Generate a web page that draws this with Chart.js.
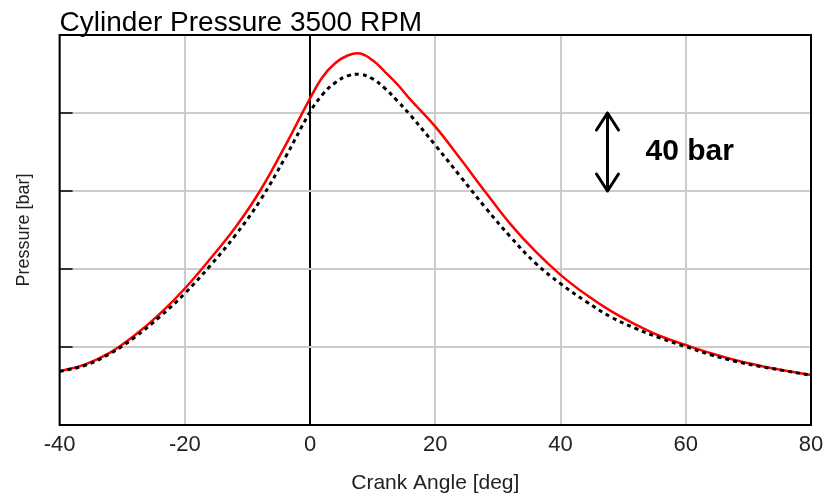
<!DOCTYPE html>
<html>
<head>
<meta charset="utf-8">
<script src="https://cdn.jsdelivr.net/npm/chart.js@4/dist/chart.umd.min.js"></script>
<style>
  html, body { margin: 0; padding: 0; background: #fff; }
  #wrap { width: 823px; height: 494px; }
</style>
</head>
<body>
<div id="wrap"><canvas id="pressureChart"></canvas></div>
<script>
// crank angle [deg]
var crankAngle = [-40, -36, -32, -28, -24, -20, -16, -12, -8, -4, 0, 2, 4, 6, 8, 10, 12, 14, 16,
  20, 24, 28, 32, 36, 40, 44, 48, 52, 56, 60, 64, 68, 72, 76, 80];
// red solid curve
var pressureRed = [27.5, 31, 37, 46, 57, 70, 85, 101, 120, 143, 167.5, 178.5, 185.5, 189.5, 190.5, 187, 181, 174.5, 167,
  153, 136.5, 119.5, 103, 89, 77, 67, 58.5, 51.5, 45.5, 41, 36.8, 33.2, 30.3, 27.8, 25.6];
// black dotted curve
var pressureBlack = [27.5, 30.5, 36.5, 45, 55.5, 67.5, 81.5, 97, 115, 137, 160.5, 169.5, 175.5, 179, 179.8, 177.5, 172.5, 166, 159,
  143.5, 127.5, 111.5, 96.5, 83, 72.5, 63.5, 55.5, 49.5, 44.5, 40.2, 36, 32.6, 30, 27.7, 25.5];
var xTicks = [-40, -20, 0, 20, 40, 60, 80];
var yTicks = [0, 40, 80, 120, 160, 200];
// scale marker: 40 bar
var markerAngle = 47.5;
var markerFrom = 120;
var markerTo = 160;
var markerText = '40 bar';
var chartTitle = 'Cylinder Pressure 3500 RPM';

function toPoints(xs, ys) {
  return xs.map(function(x, i) { return {x: x, y: ys[i]}; });
}

// frame, inner y ticks, title and the 40 bar arrow
var extras = {
  id: 'extras',
  afterDatasetsDraw: function(chart) {
    var ctx = chart.ctx, a = chart.chartArea;
    var xs = chart.scales.x, ys = chart.scales.y;
    ctx.save();
    ctx.strokeStyle = '#000';
    ctx.lineWidth = 2;
    ctx.strokeRect(a.left, a.top, a.right - a.left, a.bottom - a.top);

    ctx.lineWidth = 1.5;
    yTicks.forEach(function(v) {
      var py = ys.getPixelForValue(v);
      ctx.beginPath();
      ctx.moveTo(a.left, py);
      ctx.lineTo(a.left + 13, py);
      ctx.stroke();
    });

    ctx.fillStyle = '#000';
    ctx.font = '28px "Liberation Sans", Arial, sans-serif';
    ctx.textAlign = 'left';
    ctx.textBaseline = 'alphabetic';
    ctx.fillText(chartTitle, a.left, a.top - 4);

    // double arrow
    var ax = xs.getPixelForValue(markerAngle);
    var y1 = ys.getPixelForValue(markerTo);
    var y2 = ys.getPixelForValue(markerFrom);
    ctx.lineWidth = 3;
    ctx.lineCap = 'round';
    ctx.lineJoin = 'round';
    ctx.beginPath();
    ctx.moveTo(ax, y1); ctx.lineTo(ax, y2);
    ctx.moveTo(ax - 11, y1 + 17); ctx.lineTo(ax, y1); ctx.lineTo(ax + 11, y1 + 17);
    ctx.moveTo(ax - 11, y2 - 17); ctx.lineTo(ax, y2); ctx.lineTo(ax + 11, y2 - 17);
    ctx.stroke();

    ctx.font = 'bold 30px "Liberation Sans", Arial, sans-serif';
    ctx.textBaseline = 'middle';
    ctx.fillText(markerText, ax + 38, (y1 + y2) / 2);
    ctx.restore();
  }
};

var ctx = document.getElementById('pressureChart').getContext('2d');
var pressureChart = new Chart(ctx, {
  type: 'line',
  data: {
    datasets: [
      {
        label: 'black',
        data: toPoints(crankAngle, pressureBlack),
        borderColor: '#000',
        borderWidth: 3,
        borderDash: [4, 4],
        pointRadius: 0,
        fill: false,
        tension: 0.4,
        order: 0
      },
      {
        label: 'red',
        data: toPoints(crankAngle, pressureRed),
        borderColor: '#ff0000',
        borderWidth: 2.5,
        pointRadius: 0,
        fill: false,
        tension: 0.4,
        order: 1
      }
    ]
  },
  options: {
    responsive: true,
    maintainAspectRatio: false,
    animation: false,
    layout: { padding: { top: 35, right: 0, left: 0, bottom: 0 } },
    plugins: {
      legend: { display: false },
      tooltip: { enabled: false },
      title: { display: false }
    },
    scales: {
      x: {
        type: 'linear',
        min: -40,
        max: 80,
        afterBuildTicks: function(scale) {
          scale.ticks = xTicks.map(function(v) { return {value: v}; });
        },
        afterFit: function(scale) {
          scale.paddingRight = 12;
        },
        grid: {
          drawTicks: false,
          lineWidth: 2,
          color: function(c) { return c.tick && c.tick.value === 0 ? '#000' : '#cccccc'; }
        },
        border: { display: false },
        ticks: {
          padding: 9,
          color: '#222',
          font: { family: '"Liberation Sans", Arial, sans-serif', size: 22, lineHeight: 1 }
        },
        title: {
          display: true,
          text: 'Crank Angle [deg]',
          color: '#222',
          padding: { top: 8, bottom: 0 },
          font: { family: '"Liberation Sans", Arial, sans-serif', size: 21, lineHeight: 1 }
        }
      },
      y: {
        min: 0,
        max: 200,
        afterBuildTicks: function(scale) {
          scale.ticks = yTicks.map(function(v) { return {value: v}; });
        },
        grid: { drawTicks: false, lineWidth: 2, color: '#cccccc' },
        border: { display: false },
        ticks: { display: false },
        title: {
          display: true,
          text: 'Pressure [bar]',
          color: '#222',
          padding: { top: 13, bottom: 25 },
          font: { family: '"Liberation Sans", Arial, sans-serif', size: 18 }
        }
      }
    }
  },
  plugins: [extras]
});
</script>
</body>
</html>
